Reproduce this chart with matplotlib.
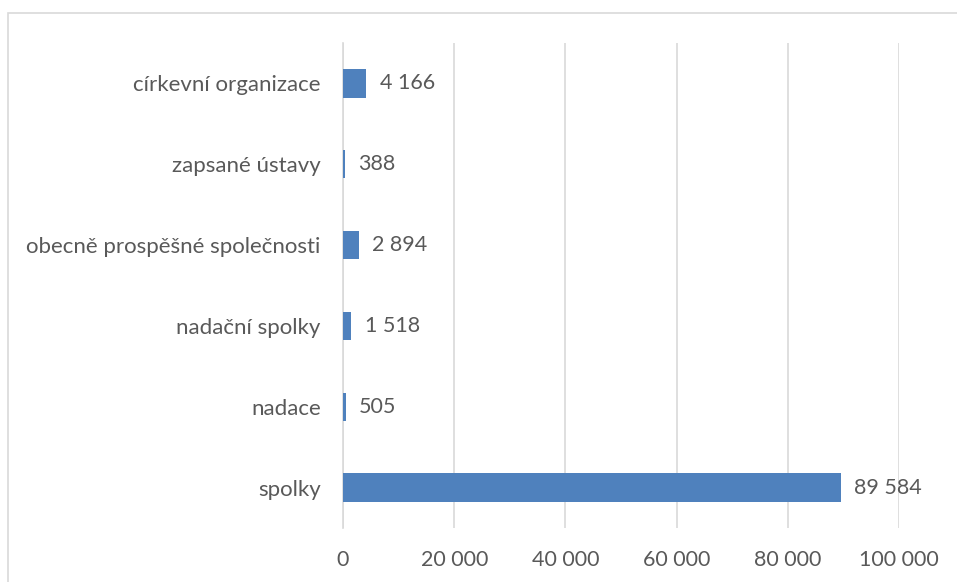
import matplotlib
matplotlib.use("Agg")
import matplotlib.pyplot as plt
from matplotlib.patches import Rectangle

# data (bottom to top)
categories = ["spolky", "nadace", "nadační spolky", "obecně prospěšné společnosti",
              "zapsané ústavy", "církevní organizace"]
values = [89584, 505, 1518, 2894, 388, 4166]
xticks = [0, 20000, 40000, 60000, 80000, 100000]

TEXT = "#595959"
BAR = "#4F81BD"
GRID = "#D9D9D9"


def _fmt(v):
    return f"{v:,}".replace(",", " ")


plt.rcParams["font.family"] = ["Lato", "DejaVu Sans"]

fig = plt.figure(figsize=(9.57, 5.82), dpi=100)
ax = fig.add_axes([343 / 957, 1 - 528 / 582, (899 - 343) / 957, (528 - 43) / 582])

# outer chart border
fig.patches.append(Rectangle((8 / 957, -0.1), 1.2, 1 - 13 / 582 + 0.1,
                             transform=fig.transFigure, fill=False,
                             edgecolor=GRID, lw=1.2))

y = range(len(categories))
ax.barh(y, values, height=0.35, color=BAR, zorder=3)
for yi, v in zip(y, values):
    ax.text(v + 2400, yi, _fmt(v), va="center", ha="left", fontsize=15.5, color=TEXT)

ax.set_xlim(0, 100000)
ax.set_ylim(-0.5, len(categories) - 0.5)
ax.set_xticks(xticks)
ax.set_xticklabels([_fmt(t) for t in xticks])
ax.set_yticks(list(y))
ax.set_yticklabels(categories)
ax.tick_params(axis="both", length=0, labelsize=15.5, labelcolor=TEXT)
ax.tick_params(axis="y", labelsize=16, pad=16)
ax.tick_params(axis="x", pad=16)
ax.grid(axis="x", color=GRID, lw=1.2, zorder=0)
for s in ["top", "right", "bottom"]:
    ax.spines[s].set_visible(False)
ax.spines["left"].set_color(GRID)
ax.spines["left"].set_linewidth(1.2)

fig.savefig("out.png", dpi=100)
